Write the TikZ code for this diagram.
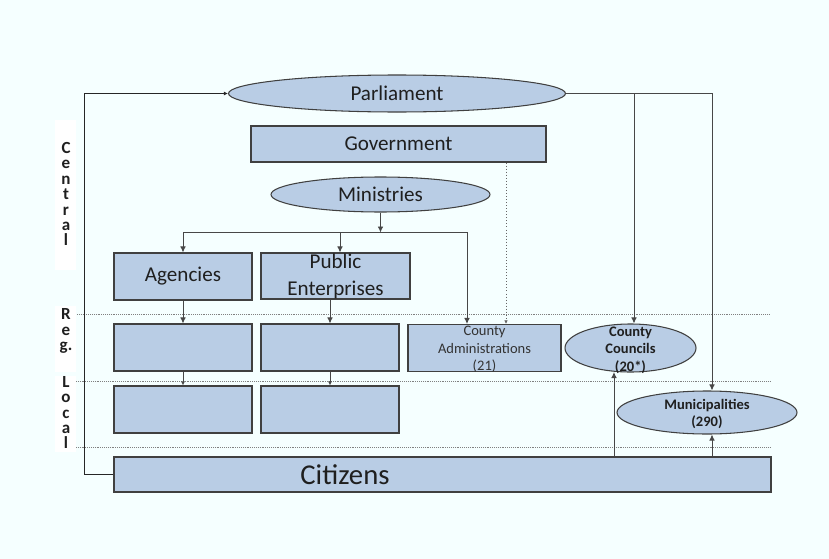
\documentclass[tikz,border=0pt]{standalone}
\usepackage{fontspec}
\setmainfont{Carlito}
\usepackage{tikz}
\usetikzlibrary{arrows.meta,calc,positioning,shapes.geometric}

\definecolor{pagebg}{RGB}{245,255,255}
\definecolor{boxfill}{RGB}{185,205,229}
\definecolor{boxline}{RGB}{64,64,64}

\begin{document}
\begin{tikzpicture}[
  x=0.03cm, y=-0.03cm,
  >=Latex,
  unit/.style={
    draw=boxline,
    fill=boxfill,
    line width=0.9pt,
    inner sep=0pt,
    text=black!88,
    font=\fontsize{18}{22}\selectfont
  },
  box/.style={unit, rectangle},
  oval/.style={unit, ellipse},
  caption/.style={
    font=\fontsize{18}{22}\selectfont,
    align=center,
    text=black!88
  },
  note/.style={
    font=\fontsize{12.4}{15}\selectfont,
    align=center,
    text=black!80
  },
  boldnote/.style={
    note,
    font=\fontsize{12.4}{15}\selectfont\bfseries,
    text=black!88
  },
  tier/.style={
    font=\fontsize{14.5}{13.2}\selectfont\bfseries,
    text=black!88,
    align=center,
    inner sep=0pt
  },
  tierline/.style={
    densely dotted,
    line width=0.6pt,
    black!50
  },
  link/.style={
    -{Latex[length=1.8mm,width=1.7mm]},
    line width=0.8pt,
    black!72
  },
  thinlink/.style={
    link,
    -{Latex[length=1.2mm,width=1.2mm]}
  },
  dotlink/.style={
    -{Latex[length=1.1mm,width=1.1mm]},
    dotted,
    line width=0.6pt,
    black!60
  }
]

% page and tier bands
\fill[pagebg] (0,0) rectangle (829,559);
\fill[white] (55,120) rectangle (76,270);
\fill[white] (55,306) rectangle (76,372);
\fill[white] (55,376) rectangle (76,452);

\node[tier] (central) at (66,194) {C\\e\\n\\t\\r\\a\\l};
\node[tier] (regional) at (66,331) {R\\e\\g.};
\node[tier] (local) at (66,412.5) {L\\o\\c\\a\\l};

\draw[tierline] (77,314) -- (770,314);
\draw[tierline] (76,381) -- (770,381);
\draw[tierline] (76,447) -- (770,447);

% Central level
\node[oval, minimum width=10.11cm, minimum height=1.11cm] (parliament)
  at (397,93.5) {Parliament};

\node[box, minimum width=8.85cm, minimum height=1.08cm] (government)
  at (398.5,144) {Government};

\node[oval, minimum width=6.57cm, minimum height=1.05cm] (ministries)
  at (380.5,194.5) {Ministries};

\node[box, minimum width=4.14cm, minimum height=1.41cm] (agencies)
  at (183,276.5) {Agencies};

\node[box, minimum width=4.47cm, minimum height=1.38cm,
  label={[caption]center:Public\\[1pt]Enterprises}] (publicent)
  at (335.5,276) {};

% Regional level
\node[box, minimum width=4.14cm, minimum height=1.41cm] (agencyreg)
  at (183,347.5) {};
\node[box, minimum width=4.14cm, minimum height=1.41cm] (publicreg)
  at (330,347.5) {};

\node[box, minimum width=4.59cm, minimum height=1.41cm,
  label={[note, yshift=-0.04cm]center:County\\Administrations\\(21)}] (countyadm)
  at (484.5,348) {};

\node[oval, minimum width=3.93cm, minimum height=1.44cm,
  label={[boldnote, yshift=-0.06cm]center:County\\Councils\\(20*)}] (councils)
  at (630.5,348) {};

% Local level
\node[box, minimum width=4.14cm, minimum height=1.41cm] (agencyloc)
  at (183,409.5) {};
\node[box, minimum width=4.14cm, minimum height=1.41cm] (publicloc)
  at (330,409.5) {};

\node[oval, minimum width=5.4cm, minimum height=1.29cm,
  label={[boldnote, yshift=-0.04cm]center:Municipalities\\(290)}] (municip)
  at (707,412.5) {};

\node[box, minimum width=19.71cm, minimum height=1.05cm,
  label={[caption, font=\fontsize{24.5}{28}\selectfont, xshift=-2.925cm]center:Citizens}] (citizens)
  at (442.5,474.5) {};

% Ministries down to agencies, enterprises and counties
\coordinate (fork) at ($(ministries.south)+(0,20)$);
\draw[link] (ministries.south) -- (fork);
\draw[link] (fork) -| (agencies.north);
\draw[link] (fork) -| ($(publicent.north)+(4.5,0)$);
\draw[link] (fork) -| ($(countyadm.north)+(-17.5,0)$);

\coordinate (govdrop) at ($(countyadm.north)+(21.5,0)$);
\draw[dotlink] (government.south -| govdrop) -- (govdrop);

\draw[link] (agencies.south) -- (agencyreg.north);
\draw[link] (publicent.south -| publicreg.north) -- (publicreg.north);
\draw[thinlink] (agencyreg.south) -- (agencyloc.north);
\draw[thinlink] (publicreg.south) -- (publicloc.north);

% Parliament elects the councils
\coordinate (cctop) at ($(councils.north)+(3.5,0)$);
\coordinate (mutop) at ($(municip.north)+(5,0)$);
\draw[link] (parliament.east) -| (mutop);
\draw[link] (parliament.east -| cctop) -- (cctop);

% Citizens vote
\coordinate (ccbot) at ($(councils.south)+(-16.5,-0.5)$);
\coordinate (mubot) at ($(municip.south)+(5,0)$);
\draw[link] (citizens.north -| ccbot) -- (ccbot);
\draw[link] (citizens.north -| mubot) -- (mubot);
\draw[thinlink, black!85] (citizens.west) -- ++(-29,0) |- (parliament.west);

\end{tikzpicture}
\end{document}
